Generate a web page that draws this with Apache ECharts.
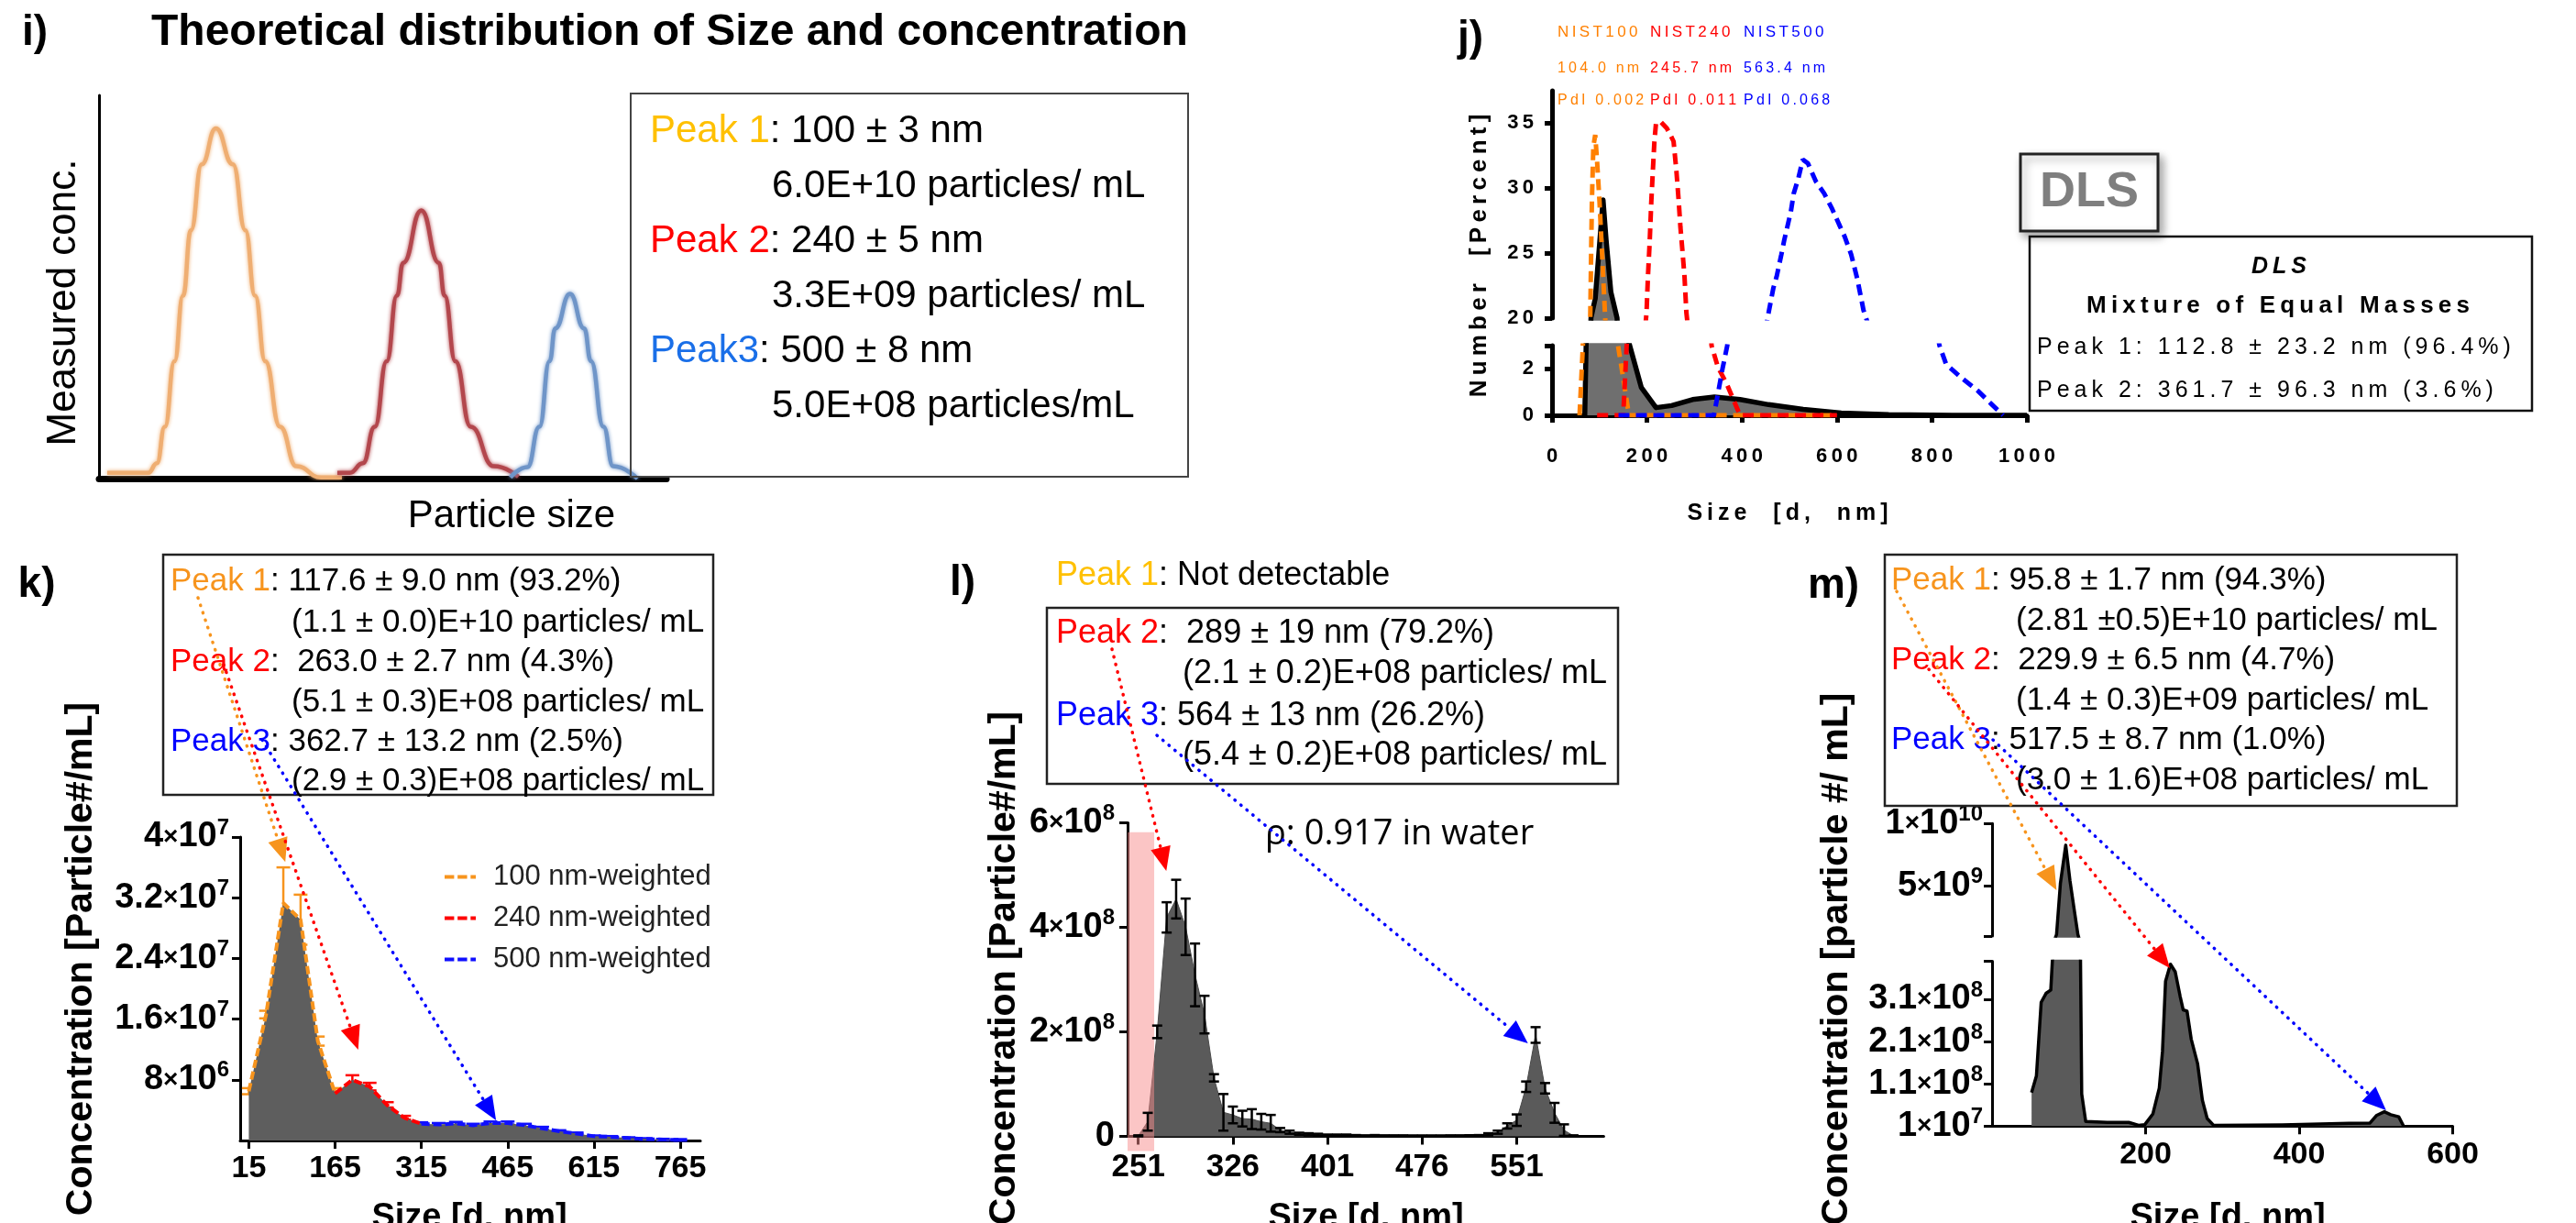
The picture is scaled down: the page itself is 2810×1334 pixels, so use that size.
<!DOCTYPE html>
<html><head><meta charset="utf-8">
<script src="https://cdn.jsdelivr.net/npm/echarts@6/dist/echarts.min.js"></script>
<style>html,body{margin:0;padding:0;background:#fff;overflow:hidden}#c{width:2810px;height:1334px}</style>
</head><body><div id="c"></div>
<script>
// ================= DATA =================
// Panel i – schematic peaks (arbitrary units, x 0-100, y 0-100)
const iPeak1 = [[1.45,1.5],[8.7,1.5],[10.2,4],[11.6,13.5],[13.3,30.6],[14.8,47.7],[16.2,64.8],[18.1,82],[20.6,91.4],[23.6,82],[25.8,64.8],[27.5,47.7],[29.3,30.6],[31.9,13.5],[34.8,3.2],[39.1,0.3],[42.8,0.3]];
const iPeak2 = [[42,1.5],[44.2,1.5],[46.5,4],[48.6,13.5],[50.7,30.6],[52.5,47.7],[53.6,56.3],[56.8,70],[59.9,56.3],[60.9,47.7],[62.8,30.6],[65.5,13.5],[69.6,3.2],[73.9,0.5]];
const iPeak3 = [[72.5,0.3],[75.5,3],[77.6,13.5],[79.4,30.6],[80.4,39.2],[83,48.2],[85.5,39.2],[86.7,30.6],[88.9,13.5],[90.6,3.2],[94.9,0]];

// Panel j – DLS number distribution [size nm, %]
const jSample = [[69,0],[72,3.2],[82,20],[91,21.5],[107.5,29.1],[114,26],[124,22],[137,20],[161,3.2],[188,1.2],[219,0.33],[252,0.42],[296,0.68],[342,0.79],[396,0.68],[456,0.46],[529,0.26],[609,0.1],[709,0.03],[843,0],[1000,0]];
const jNist100 = [[58,0],[65,3],[80.5,20],[82,24],[84,29],[87,33.2],[91,34.1],[95,32],[100,29],[106,24.5],[112,20],[139,3],[150,1.6],[162,0],[600,0]];
const jNist240 = [[95,0],[150,0],[199,20.4],[202,23.2],[205.6,25.8],[209,28.9],[212.3,31.3],[215.6,33.6],[219,35],[229,35.1],[242,34.6],[252,33.9],[256,33.6],[262,31.3],[267,28.9],[270.4,27],[274.4,25.3],[279,23.2],[283,20.4],[336,3],[349,2.1],[369,1.3],[396,0],[600,0]];
const jNist500 = [[140,0],[341,0],[359,2],[369,3],[456,20.4],[466,22.3],[473,23.2],[483,24.9],[489,26],[503,28.2],[509,29.6],[519,30.8],[528,32.2],[539,31.9],[556,30.5],[573,29.6],[590,28.4],[606,27.1],[616,26.3],[630,24.9],[643,23],[656,20.6],[816,3],[830,2.2],[863,1.6],[897,1.05],[923,0.53],[950,0]];
const jTicksX = [0,200,400,600,800,1000];
const jTicksUpper = [20,25,30,35];
const jTicksLower = [0,2];

// Panel k – NTA, mixture
const kSize = [15,45,75,105,135,165,195,225,255,285,315,345,375,405,435,465,495,525,555,585,615,645,675,705,735,765];
const kConc = [6.5e6,1.66e7,3.13e7,2.91e7,1.31e7,6.2e6,8.0e6,7.1e6,4.7e6,3.0e6,2.2e6,2.1e6,2.25e6,2.0e6,2.3e6,2.3e6,2.0e6,1.6e6,1.2e6,0.9e6,0.56e6,0.48e6,0.32e6,0.2e6,0.12e6,0.08e6];
const kErr  = [0.4e6,0.5e6,4.7e6,3.3e6,0.6e6,0.7e6,0.6e6,0.5e6,0.35e6,0.25e6,0.2e6,0.2e6,0.2e6,0.2e6,0.2e6,0.2e6,0.2e6,0.2e6,0.15e6,0.15e6,0.1e6,0.1e6,0.1e6,0.1e6,0.1e6,0.1e6];
const kTicksX = [15,165,315,465,615,765];
const kTicksY = [8e6,1.6e7,2.4e7,3.2e7,4e7];

// Panel l – (values x1e8)
const lSize = [251,258.5,266,273.5,281,288.5,296,303.5,311,318.5,326,333.5,341,348.5,356,363.5,371,378.5,386,393.5,401,408.5,416,423.5,431,438.5,446,453.5,461,468.5,476,483.5,491,498.5,506,513.5,521,528.5,536,543.5,551,558.5,566,573.5,581,588.5,596];
const lConc = [0.01,0.28,2.0,4.19,4.54,4.01,3.09,2.33,1.12,0.46,0.41,0.34,0.33,0.28,0.25,0.12,0.08,0.05,0.04,0.03,0.02,0.02,0.02,0.015,0.01,0.015,0.01,0.01,0.01,0.008,0.008,0.008,0.008,0.01,0.01,0.012,0.015,0.04,0.08,0.2,0.31,0.95,1.94,0.92,0.45,0.12,0.01];
const lErr  = [0.01,0.17,0.12,0.29,0.37,0.54,0.6,0.36,0.07,0.35,0.16,0.15,0.19,0.15,0.16,0.04,0.03,0.02,0.02,0.02,0.015,0.015,0.015,0.01,0.01,0.01,0.01,0.01,0.01,0.01,0.01,0.01,0.01,0.01,0.01,0.01,0.01,0.02,0.03,0.05,0.11,0.1,0.15,0.1,0.19,0.11,0.01];
const lTicksX = [251,326,401,476,551];
const lTicksY = [0,2e8,4e8,6e8];
const lShade = [[242.5,-0.28e8],[263.6,5.82e8]];

// Panel m
const mSize = [51.5,57.8,64,70.3,76.5,80,84,89,96,101.5,106.8,111.8,115,116.8,122,150,178,190.8,199,209.5,217.8,222,226,232.4,238.6,245,249,254,259.4,267.7,274,280.2,288.5,378,465,492,500.6,511,519.3,529.7,536];
const mConc = [8.95e7,1.29e8,3.03e8,3.24e8,3.32e8,4.5e8,1.12e9,5.19e9,8.27e9,5.44e9,3.2e9,1.12e9,4.5e8,8.6e7,2.1e7,1.87e7,1.87e7,1.2e7,1.36e7,3.9e7,1.0e8,1.87e8,3.53e8,3.93e8,3.75e8,3.17e8,2.85e8,2.82e8,2.16e8,1.58e8,7.1e7,2.8e7,1.2e7,1.3e7,1.65e7,1.7e7,3.5e7,4.4e7,3.7e7,3.2e7,1e7];
const mTicksX = [200,400,600];
const mTicksUpper = [5e9,1e10];
const mTicksLower = [1e7,1.1e8,2.1e8,3.1e8];

// ================= HELPERS =================
const FONT = "'Liberation Sans', Arial, sans-serif";
const F = (s, w, fam) => (w || 'normal') + ' ' + s + 'px ' + (fam || FONT);
const sp = s => String(s).split('').join('\u2009');
function sci(v) {
  if (v === 0) return '{m|0}';
  const e = Math.floor(Math.log10(v) + 1e-9);
  const m = +(v / Math.pow(10, e)).toFixed(2);
  return '{m|' + m + '}{x|×}{m|10}{s|' + e + '}';
}
const sciRich = {
  m: {fontSize: 38, fontWeight: 'bold', fontFamily: FONT, color: '#000', lineHeight: 44},
  x: {fontSize: 28, fontFamily: FONT, color: '#000', lineHeight: 44},
  s: {fontSize: 24, fontWeight: 'bold', fontFamily: FONT, color: '#000', lineHeight: 26, verticalAlign: 'top'}
};
function ax(o) {
  const lw = o.lw || 3;
  return {
    type: 'value', gridIndex: o.g, min: o.min, max: o.max, show: o.show !== false,
    splitLine: {show: false},
    axisLine: {show: true, onZero: false, lineStyle: {color: '#000', width: lw}},
    axisTick: {show: !!o.ticks, customValues: o.ticks, length: o.tl || 9, lineStyle: {color: '#000', width: lw}},
    axisLabel: {show: !!o.labels, customValues: o.labels, formatter: o.fmt, margin: o.margin || 12,
      color: '#000', fontSize: o.fs || 34, fontWeight: 'bold', fontFamily: FONT, rich: o.rich}
  };
}
const pairs = (xs, ys, k) => xs.map((x, i) => [x, ys[i] * (k || 1)]);
function errRender(color, cap, lw) {
  return function (params, api) {
    const x = api.value(0), lo = api.value(1), hi = api.value(2);
    const a = api.coord([x, hi]), b = api.coord([x, lo]);
    const h = cap / 2, st = {stroke: color, lineWidth: lw};
    return {type: 'group', children: [
      {type: 'line', shape: {x1: a[0], y1: a[1], x2: b[0], y2: b[1]}, style: st},
      {type: 'line', shape: {x1: a[0] - h, y1: a[1], x2: a[0] + h, y2: a[1]}, style: st},
      {type: 'line', shape: {x1: b[0] - h, y1: b[1], x2: b[0] + h, y2: b[1]}, style: st}
    ]};
  };
}

// ================= CHART =================
const chart = echarts.init(document.getElementById('c'), null, {renderer: 'canvas', width: 2810, height: 1334});
const gridBase = {containLabel: false, outerBoundsMode: 'none', show: false};
const grids = [
  {left: 108, top: 104, width: 619, height: 418},     // 0 i
  {left: 1693, top: 99, width: 518, height: 248},     // 1 j upper
  {left: 1693, top: 377, width: 518, height: 76},     // 2 j lower
  {left: 262, top: 913, width: 502, height: 331},     // 3 k
  {left: 1230, top: 897.5, width: 519.4, height: 342},// 4 l
  {left: 2173, top: 898.3, width: 502.5, height: 122.6}, // 5 m upper
  {left: 2173, top: 1048.5, width: 502.5, height: 179.8} // 6 m lower
].map(g => Object.assign({}, gridBase, g));

const kColors = ['#F7941D', '#FF0000', '#1010FF'];
const kPts = pairs(kSize, kConc);
const kBars = kSize.map((x, i) => [x, kConc[i] - kErr[i], kConc[i] + kErr[i]]);
const lPts = pairs(lSize, lConc, 1e8);
const lBars = lSize.map((x, i) => [x, (lConc[i] - lErr[i]) * 1e8, (lConc[i] + lErr[i]) * 1e8]);
const mPts = pairs(mSize, mConc);

const jDash = (name, data, color, g) => ({type: 'line', name: name, xAxisIndex: g, yAxisIndex: g, data: data, showSymbol: false, silent: true,
  lineStyle: {color: color, width: 5, type: [12, 7], cap: 'butt'}, z: 4});
const jBlack = (g, origin) => ({type: 'line', xAxisIndex: g, yAxisIndex: g, data: jSample, showSymbol: false, silent: true,
  lineStyle: {color: '#000', width: 5.5, join: 'round'}, areaStyle: {color: '#6F6F6F', opacity: 1, origin: origin}, z: 3});
const iLine = (data, color) => ({type: 'line', xAxisIndex: 0, yAxisIndex: 0, data: data, showSymbol: false, smooth: 0.5, smoothMonotone: 'x', silent: true,
  lineStyle: {color: color, width: 4.5, shadowBlur: 4, shadowColor: color}});
const mSeries = (g, origin) => ({type: 'line', xAxisIndex: g, yAxisIndex: g, data: mPts, showSymbol: false, silent: true,
  lineStyle: {color: '#000', width: 3.5, join: 'round'}, areaStyle: {color: '#5A5A5A', opacity: 1, origin: origin}, z: 3});

const option = {
  animation: false,
  textStyle: {fontFamily: FONT},
  grid: grids,
  xAxis: [
    ax({g: 0, min: 0, max: 100, lw: 7}),
    ax({g: 1, min: 0, max: 1000, show: false}),
    ax({g: 2, min: 0, max: 1000, lw: 5, ticks: jTicksX, labels: jTicksX, fmt: v => sp(v), fs: 22, margin: 34, tl: 8}),
    ax({g: 3, min: 0, max: 800, ticks: kTicksX, labels: kTicksX, fs: 34, margin: 14}),
    ax({g: 4, min: 242.5, max: 620, ticks: lTicksX, labels: lTicksX, fs: 35, margin: 16}),
    ax({g: 5, min: 0, max: 600, show: false}),
    ax({g: 6, min: 0, max: 600, ticks: mTicksX, labels: mTicksX, fs: 34, margin: 14})
  ],
  yAxis: [
    ax({g: 0, min: 0, max: 100, lw: 3}),
    ax({g: 1, min: 20, max: 37.5, lw: 5, ticks: jTicksUpper, labels: jTicksUpper, fmt: v => sp(v), fs: 22, margin: 20, tl: 8}),
    ax({g: 2, min: 0, max: 3, lw: 5, ticks: [0, 2, 3], labels: jTicksLower, fmt: v => sp(v), fs: 22, margin: 20, tl: 8}),
    ax({g: 3, min: 0, max: 4e7, ticks: kTicksY, labels: kTicksY, fmt: sci, rich: sciRich, margin: 12}),
    ax({g: 4, min: 0, max: 6e8, ticks: lTicksY, labels: lTicksY, fmt: sci, rich: sciRich, margin: 14}),
    ax({g: 5, min: 1e9, max: 1e10, ticks: [1e9].concat(mTicksUpper), labels: mTicksUpper, fmt: sci, rich: sciRich, margin: 10}),
    ax({g: 6, min: 1e7, max: 4e8, ticks: mTicksLower.concat([4e8]), labels: mTicksLower, fmt: sci, rich: sciRich, margin: 10})
  ],
  legend: {
    data: ['100 nm-weighted', '240 nm-weighted', '500 nm-weighted'],
    orient: 'vertical', left: 480, top: 936, itemWidth: 34, itemHeight: 5, itemGap: 14,
    icon: 'path://M0,0h11v4h-11z M15,0h11v4h-11z M30,0h6v4h-6z',
    itemStyle: {borderWidth: 0},
    textStyle: {fontSize: 31, fontFamily: FONT, color: '#222', padding: [0, 0, 0, 14]},
    selectedMode: false
  },
  series: [
    // i
    iLine(iPeak1, '#EFAE72'), iLine(iPeak2, '#B3474D'), iLine(iPeak3, '#6F95C8'),
    // j upper + lower
    jBlack(1, 0), jDash('NIST100', jNist100, '#FF8000', 1), jDash('NIST240', jNist240, '#FF0000', 1), jDash('NIST500', jNist500, '#0000FF', 1),
    jBlack(2, 'start'), jDash('NIST100 ', jNist100, '#FF8000', 2), jDash('NIST240 ', jNist240, '#FF0000', 2), jDash('NIST500 ', jNist500, '#0000FF', 2),
    // k
    {type: 'custom', xAxisIndex: 3, yAxisIndex: 3, data: kBars.slice(0, 6), renderItem: errRender(kColors[0], 15, 2.5), encode: {x: 0, y: [1, 2]}, z: 2, silent: true},
    {type: 'custom', xAxisIndex: 3, yAxisIndex: 3, data: kBars.slice(6, 10), renderItem: errRender(kColors[1], 15, 2.5), encode: {x: 0, y: [1, 2]}, z: 2, silent: true},
    {type: 'custom', xAxisIndex: 3, yAxisIndex: 3, data: kBars.slice(10), renderItem: errRender(kColors[2], 15, 2.5), encode: {x: 0, y: [1, 2]}, z: 2, silent: true},
    {type: 'line', xAxisIndex: 3, yAxisIndex: 3, data: kPts, showSymbol: false, silent: true, lineStyle: {width: 0}, areaStyle: {color: '#5E5E5E', opacity: 1}, z: 3},
    {type: 'line', name: '100 nm-weighted', color: kColors[0], xAxisIndex: 3, yAxisIndex: 3, data: kPts.slice(0, 6), showSymbol: false, silent: true, lineStyle: {color: kColors[0], width: 4, type: [9, 4]}, z: 4},
    {type: 'line', name: '240 nm-weighted', color: kColors[1], xAxisIndex: 3, yAxisIndex: 3, data: kPts.slice(5, 11), showSymbol: false, silent: true, lineStyle: {color: kColors[1], width: 4, type: [9, 4]}, z: 4},
    {type: 'line', name: '500 nm-weighted', color: kColors[2], xAxisIndex: 3, yAxisIndex: 3, data: kPts.slice(10), showSymbol: false, silent: true, lineStyle: {color: kColors[2], width: 4, type: [9, 4]}, z: 4},
    // l
    {type: 'line', xAxisIndex: 4, yAxisIndex: 4, data: lPts, showSymbol: false, silent: true, lineStyle: {width: 1, color: '#4A4A4A'}, areaStyle: {color: '#5A5A5A', opacity: 1}, z: 3},
    {type: 'custom', xAxisIndex: 4, yAxisIndex: 4, data: lBars, renderItem: errRender('#000', 11, 2.5), encode: {x: 0, y: [1, 2]}, z: 6, silent: true},
    // m
    mSeries(5, 0), mSeries(6, 'start')
  ]
};
chart.setOption(option);

// ================= ANNOTATIONS =================
const px = (g, p) => chart.convertToPixel({gridIndex: g}, p);
function arrow(p0, tip, color) {
  const dx = tip[0] - p0[0], dy = tip[1] - p0[1], len = Math.hypot(dx, dy);
  const ux = dx / len, uy = dy / len, L = 26, W = 11;
  const b = [tip[0] - ux * L, tip[1] - uy * L];
  return [
    {type: 'line', z: 40, silent: true, shape: {x1: p0[0], y1: p0[1], x2: b[0], y2: b[1]},
      style: {stroke: color, lineWidth: 3.5, lineDash: [0.5, 8], lineCap: 'round'}},
    {type: 'polygon', z: 40, silent: true, shape: {points: [tip, [b[0] - uy * W, b[1] + ux * W], [b[0] + uy * W, b[1] - ux * W]]},
      style: {fill: color}}
  ];
}
function T(x, y, text, font, o) {
  o = o || {};
  const el = {type: 'text', x: x, y: y, z: 30, silent: true, rotation: o.rot || 0,
    style: {text: text, font: font, fill: o.fill || '#000', align: o.align || 'left', verticalAlign: 'middle'}};
  if (o.rich) el.style.rich = o.rich;
  if (o.shadow) Object.assign(el.style, o.shadow);
  return el;
}
const R = (x, y, w, h, o) => Object.assign({type: 'rect', z: 25, silent: true, shape: {x: x, y: y, width: w, height: h},
  style: Object.assign({fill: 'none', stroke: '#222', lineWidth: 2.5}, o || {})});
function peakRich(font, c1) {
  return {o: {fill: c1, font: font}, r: {fill: '#FF0000', font: font}, b: {fill: '#0000FF', font: font}, ib: {fill: '#1A6FE8', font: font}};
}

const fI = F(42), fK = F(35), fL = F(36), fM = F(35);
const richI = peakRich(fI, '#FFC000');
const richK = peakRich(fK, '#F7941D');
const richL = peakRich(fL, '#FFC000');
const richM = peakRich(fM, '#F7941D');

const shadeA = px(4, lShade[0]), shadeB = px(4, lShade[1]);

const g = [
  // ---- panel i
  T(38, 36, 'i)', F(46, 'bold'), {align: 'center'}),
  T(165, 36, 'Theoretical distribution of Size and concentration', F(48, 'bold')),
  R(688, 102, 608, 418, {stroke: '#444', lineWidth: 2}),
  T(709, 143, '{o|Peak 1}: 100 ± 3 nm', fI, {rich: richI}),
  T(842, 203, '6.0E+10 particles/ mL', fI),
  T(709, 263, '{r|Peak 2}: 240 ± 5 nm', fI, {rich: richI}),
  T(842, 323, '3.3E+09 particles/ mL', fI),
  T(709, 383, '{ib|Peak3}: 500 ± 8 nm', fI, {rich: richI}),
  T(842, 443, '5.0E+08 particles/mL', fI),
  T(70, 330, 'Measured conc.', F(44), {rot: Math.PI / 2, align: 'center'}),
  T(558, 563, 'Particle size', F(42), {align: 'center'}),
  // ---- panel j
  T(1604, 42, 'j)', F(46, 'bold'), {align: 'center'}),
  T(1699, 35, sp('NIST100'), F(17), {fill: '#FF8000'}),
  T(1800, 35, sp('NIST240'), F(17), {fill: '#FF0000'}),
  T(1902, 35, sp('NIST500'), F(17), {fill: '#0000FF'}),
  T(1699, 75, sp('104.0 nm'), F(16), {fill: '#FF8000'}),
  T(1800, 75, sp('245.7 nm'), F(16), {fill: '#FF0000'}),
  T(1902, 75, sp('563.4 nm'), F(16), {fill: '#0000FF'}),
  T(1699, 110, sp('PdI 0.002'), F(16), {fill: '#FF8000'}),
  T(1800, 110, sp('PdI 0.011'), F(16), {fill: '#FF0000'}),
  T(1902, 110, sp('PdI 0.068'), F(16), {fill: '#0000FF'}),
  T(1614, 279, sp('Number  [Percent]'), F(26, 'bold'), {rot: Math.PI / 2, align: 'center'}),
  T(1950, 560, sp('Size  [d,  nm]'), F(25, 'bold'), {align: 'center'}),
  R(2204, 168, 150, 84, {fill: '#fff', stroke: '#222', lineWidth: 3, shadowBlur: 10, shadowColor: 'rgba(0,0,0,0.35)', shadowOffsetX: 4, shadowOffsetY: 5}),
  T(2279, 210, 'DLS', F(54, 'bold'), {align: 'center', fill: '#7F7F7F',
    shadow: {shadowColor: 'rgba(0,0,0,0.45)', shadowBlur: 6, shadowOffsetX: 3, shadowOffsetY: 5}}),
  R(2214, 258, 548, 190, {stroke: '#111', lineWidth: 2.5}),
  T(2486, 291, sp('DLS'), 'italic ' + F(25, 'bold'), {align: 'center'}),
  T(2485, 334, sp('Mixture of Equal Masses'), F(26, 'bold'), {align: 'center'}),
  T(2222, 379, sp('Peak 1: 112.8 ± 23.2 nm (96.4%)'), F(25)),
  T(2222, 426, sp('Peak 2: 361.7 ± 96.3 nm (3.6%)'), F(25)),
  // ---- panel k
  T(40, 638, 'k)', F(46, 'bold'), {align: 'center'}),
  R(178, 605, 600, 262),
  T(186, 634, '{o|Peak 1}: 117.6 ± 9.0 nm (93.2%)', fK, {rich: richK}),
  T(318, 679, '(1.1 ± 0.0)E+10 particles/ mL', fK),
  T(186, 722, '{r|Peak 2}:  263.0 ± 2.7 nm (4.3%)', fK, {rich: richK}),
  T(318, 766, '(5.1 ± 0.3)E+08 particles/ mL', fK),
  T(186, 809, '{b|Peak 3}: 362.7 ± 13.2 nm (2.5%)', fK, {rich: richK}),
  T(318, 852, '(2.9 ± 0.3)E+08 particles/ mL', fK),
  T(89, 1046, 'Concentration [Particle#/mL]', F(41, 'bold'), {rot: Math.PI / 2, align: 'center'}),
  T(512, 1329, 'Size [d, nm]', F(38, 'bold'), {align: 'center'}),
  // ---- panel l
  T(1050, 636, 'l)', F(46, 'bold'), {align: 'center'}),
  T(1152, 628, '{o|Peak 1}: Not detectable', fL, {rich: richL}),
  R(1142, 663, 623, 192),
  T(1152, 691, '{r|Peak 2}:  289 ± 19 nm (79.2%)', fL, {rich: richL}),
  T(1290, 735, '(2.1 ± 0.2)E+08 particles/ mL', fL),
  T(1152, 781, '{b|Peak 3}: 564 ± 13 nm (26.2%)', fL, {rich: richL}),
  T(1290, 824, '(5.4 ± 0.2)E+08 particles/ mL', fL),
  T(1380, 910, 'ρ: 0.917 in water', F(38, 'normal', "'Open Sans', sans-serif")),
  T(1096, 1056, 'Concentration [Particle#/mL]', F(41, 'bold'), {rot: Math.PI / 2, align: 'center'}),
  T(1490, 1329, 'Size [d, nm]', F(38, 'bold'), {align: 'center'}),
  {type: 'rect', z: 4, silent: true, shape: {x: shadeA[0], y: shadeB[1], width: shadeB[0] - shadeA[0], height: shadeA[1] - shadeB[1]},
    style: {fill: 'rgba(248,140,140,0.5)'}},
  // ---- panel m
  T(2000, 639, 'm)', F(46, 'bold'), {align: 'center'}),
  R(2056, 605, 624, 274),
  T(2063, 633, '{o|Peak 1}: 95.8 ± 1.7 nm (94.3%)', fM, {rich: richM}),
  T(2199, 677, '(2.81 ±0.5)E+10 particles/ mL', fM),
  T(2063, 720, '{r|Peak 2}:  229.9 ± 6.5 nm (4.7%)', fM, {rich: richM}),
  T(2199, 764, '(1.4 ± 0.3)E+09 particles/ mL', fM),
  T(2063, 807, '{b|Peak 3}: 517.5 ± 8.7 nm (1.0%)', fM, {rich: richM}),
  T(2199, 851, '(3.0 ± 1.6)E+08 particles/ mL', fM),
  T(2004, 1046, 'Concentration [particle #/ mL]', F(41, 'bold'), {rot: Math.PI / 2, align: 'center'}),
  T(2430, 1329, 'Size [d, nm]', F(38, 'bold'), {align: 'center'})
];

// arrows: start at the label text, tip at a data position
const arrows = []
  .concat(arrow([216, 652], px(3, [78.4, 3.67e7]), '#F7941D'))
  .concat(arrow([244, 725], px(3, [205.2, 1.196e7]), '#FF0000'))
  .concat(arrow([286, 807], px(3, [444.8, 2.66e6]), '#0000FF'))
  .concat(arrow([1213, 708], px(4, [273.2, 5.08e8]), '#FF0000'))
  .concat(arrow([1262, 802], px(4, [559.9, 1.78e8]), '#0000FF'))
  .concat(arrow([2069, 645], px(5, [84, 4.66e9]), '#F7941D'))
  .concat(arrow([2104, 730], px(6, [231.6, 3.84e8]), '#FF0000'))
  .concat(arrow([2174, 807], px(6, [513.2, 4.75e7]), '#0000FF'));

chart.setOption({graphic: {elements: g.concat(arrows)}});
</script></body></html>
